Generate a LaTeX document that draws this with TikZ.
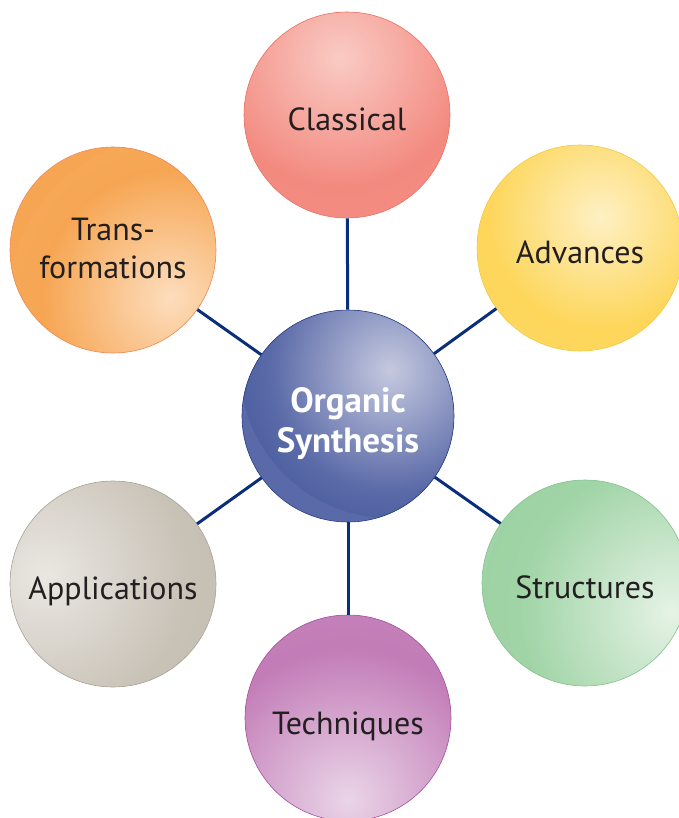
\documentclass[tikz,border=0pt]{standalone}
\usepackage{fontspec}
\setmainfont{PT Sans}
\usetikzlibrary{calc}
\pgfdeclareradialshading[sphA,sphB,sphC]{sphere}{\pgfpoint{0bp}{0bp}}{color(0bp)=(sphA); color(20bp)=(sphB); color(50bp)=(sphC); color(100bp)=(sphC)}
\definecolor{navy}{HTML}{0B2E7C}
\definecolor{txt}{HTML}{231F20}
\definecolor{cA}{HTML}{C5C9DF}\definecolor{cB}{HTML}{5A6AA8}\definecolor{cC}{HTML}{1B347F}\definecolor{cD}{HTML}{233C85}
\definecolor{clA}{HTML}{F9CBC4}\definecolor{clB}{HTML}{F38A80}\definecolor{clC}{HTML}{F4948B}\definecolor{clD}{HTML}{EE7468}
\definecolor{adA}{HTML}{FEF0C4}\definecolor{adB}{HTML}{FDD65A}\definecolor{adC}{HTML}{FDDA72}\definecolor{adD}{HTML}{F5CA45}
\definecolor{trA}{HTML}{FDDDBD}\definecolor{trB}{HTML}{F6A653}\definecolor{trC}{HTML}{F8B36E}\definecolor{trD}{HTML}{F08A5A}
\definecolor{stA}{HTML}{E6F3E6}\definecolor{stB}{HTML}{A0D4A6}\definecolor{stC}{HTML}{8FCB98}\definecolor{stD}{HTML}{86C490}
\definecolor{teA}{HTML}{EAD5E8}\definecolor{teB}{HTML}{C27CB7}\definecolor{teC}{HTML}{CC95C4}\definecolor{teD}{HTML}{A855A0}
\definecolor{apA}{HTML}{EAE7E2}\definecolor{apB}{HTML}{C8C1B6}\definecolor{apC}{HTML}{BFB8AB}\definecolor{apD}{HTML}{ABA496}
\newcommand\lbl[2][-14.5pt]{\raisebox{#1}[0pt][0pt]{\begin{tabular}{@{}c@{}}#2\end{tabular}}}
\tikzset{
  sph/.style n args={6}{circle, minimum size=206pt, inner sep=0pt, draw=#4, line width=0.6pt, fill=#2,
    text=txt, font=\fontsize{32}{38}\selectfont,
    /utils/exec={\colorlet{sphA}{#1}\colorlet{sphB}{#2}\colorlet{sphC}{#3}},
    path picture={\shade[shading=sphere] ($(path picture bounding box.center)+(#5)$) circle (#6);}},
  conn/.style={draw=navy, line width=3pt},
}
\begin{document}
\begin{tikzpicture}[x=1pt,y=-1pt]
\useasboundingbox (0,0) rectangle (678,818);
\node[sph={cA}{cB}{cC}{cD}{42,-48}{150}, minimum size=212pt,
      text=white, font=\bfseries\fontsize{35}{40}\selectfont] (c) at (348,416) {\lbl[-15pt]{Organic\\Synthesis}};
\node[sph={clA}{clB}{clC}{clD}{-7,-57}{160}] (cl) at (347,115) {\lbl{Classical}};
\node[sph={adA}{adB}{adC}{adD}{20,-31}{140}] (ad) at (580,248) {\lbl{Advances}};
\node[sph={trA}{trB}{trC}{trD}{57,48}{160}] (tr) at (113,250) {\lbl[-8pt]{Trans-\\formations}};
\node[sph={stA}{stB}{stC}{stD}{87,29}{190}] (st) at (585,583) {\lbl{Structures}};
\node[sph={teA}{teB}{teC}{teD}{0,82}{190}] (te) at (348,718) {\lbl[-15.5pt]{Techniques}};
\node[sph={apA}{apB}{apC}{apD}{-68,-9}{180}] (ap) at (113,584) {\lbl{Applications}};
\draw[conn] (c) -- (cl);
\draw[conn] (c) -- (ad);
\draw[conn] (c) -- (tr);
\draw[conn] (c) -- (st);
\draw[conn] (c) -- (te);
\draw[conn] (c) -- (ap);
\end{tikzpicture}
\end{document}
